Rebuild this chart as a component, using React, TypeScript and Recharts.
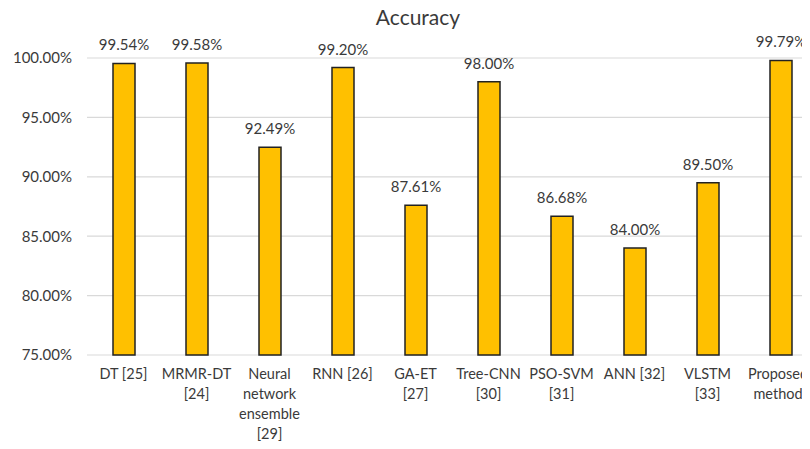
import { BarChart, Bar, XAxis, YAxis, CartesianGrid, LabelList } from "recharts";

// accuracy per method
const methods = [
  "DT [25]",
  "MRMR-DT\n[24]",
  "Neural\nnetwork\nensemble\n[29]",
  "RNN [26]",
  "GA-ET\n[27]",
  "Tree-CNN\n[30]",
  "PSO-SVM\n[31]",
  "ANN [32]",
  "VLSTM\n[33]",
  "Proposed\nmethod",
];
const accuracy = [99.54, 99.58, 92.49, 99.2, 87.61, 98.0, 86.68, 84.0, 89.5, 99.79];
const yTicks = [75, 80, 85, 90, 95, 100];

const data = methods.map((m, i) => ({ name: m, value: accuracy[i] }));

const FONT = "Lato, 'Open Sans', sans-serif";
const TEXT = "#3a3a3a";

function MultiLineTick({ x, y, payload }: any) {
  const lines = String(payload.value).split("\n");
  // keep the last label inside the picture
  const cx = Math.min(x, 778);
  return (
    <text x={cx} y={y + 16} textAnchor="middle" fill={TEXT} fontSize={14.5} fontFamily={FONT}>
      {lines.map((l, i) => (
        <tspan key={i} x={cx} dy={i === 0 ? 0 : 20}>
          {l}
        </tspan>
      ))}
    </text>
  );
}

export default function App() {
  return (
    <div
      style={{
        position: "relative",
        width: 810,
        height: 449,
        margin: -8,
        overflow: "hidden",
        background: "#fff",
      }}
    >
      <div
        style={{
          position: "absolute",
          left: 0,
          width: 836,
          top: 4,
          textAlign: "center",
          fontFamily: FONT,
          fontSize: 21,
          color: TEXT,
        }}
      >
        Accuracy
      </div>
      <BarChart
        width={830}
        height={449}
        data={data}
        margin={{ top: 58, right: 13, left: 0, bottom: 0 }}
        barSize={22}
      >
        <CartesianGrid vertical={false} stroke="#d9d9d9" strokeWidth={1.2} />
        <XAxis
          dataKey="name"
          axisLine={false}
          tickLine={false}
          interval={0}
          height={94}
          tick={<MultiLineTick />}
        />
        <YAxis
          domain={[75, 100]}
          ticks={yTicks}
          width={87}
          axisLine={false}
          tickLine={false}
          tickMargin={9}
          tickFormatter={(v: number) => `${v.toFixed(2)}%`}
          tick={{ fill: TEXT, fontSize: 15, fontFamily: FONT }}
        />
        <Bar dataKey="value" fill="#FFC000" stroke="#222" strokeWidth={1.5} isAnimationActive={false}>
          <LabelList
            dataKey="value"
            position="top"
            offset={13}
            formatter={(v: number) => `${v.toFixed(2)}%`}
            style={{ fill: TEXT, fontSize: 15, fontFamily: FONT }}
          />
        </Bar>
      </BarChart>
    </div>
  );
}
